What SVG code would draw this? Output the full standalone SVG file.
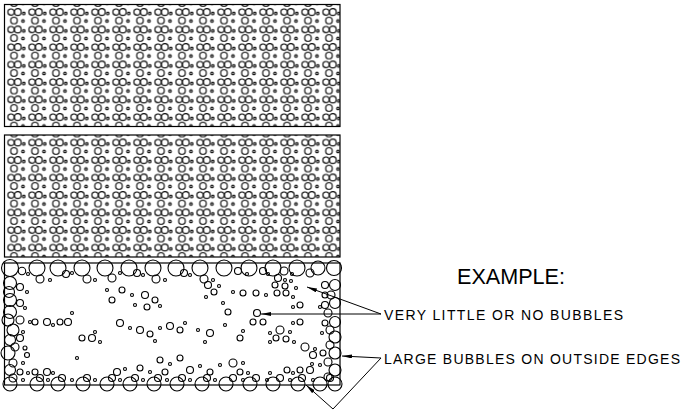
<svg xmlns="http://www.w3.org/2000/svg" width="682" height="411" viewBox="0 0 682 411">
<style>
.c{fill:none;stroke:#000;stroke-width:1.1}
.box{fill:url(#bub);stroke:#000;stroke-width:1.2}
.frame{fill:#fff;stroke:#000;stroke-width:1.2}
.t{font-family:"Liberation Sans",Arial,sans-serif;fill:#000}
.ld{fill:none;stroke:#000;stroke-width:1;marker-end:url(#arr)}
</style>
<defs>
<pattern id="bub" x="0" y="2.5" width="21" height="17.5" patternUnits="userSpaceOnUse">
<circle class="c" cx="6.5" cy="5" r="3.1"/>
<circle class="c" cx="13.3" cy="5" r="3.4"/>
<circle class="c" cx="19.3" cy="6.5" r="1.3"/>
<circle class="c" cx="9.5" cy="13.5" r="3.3"/>
<circle class="c" cx="18.5" cy="14" r="1.3"/>
</pattern>
<marker id="arr" markerWidth="10" markerHeight="4" refX="10" refY="2" orient="auto" markerUnits="userSpaceOnUse">
<path d="M0,0 L10,2 L0,4 z" fill="#000"/>
</marker>
</defs>
<rect width="682" height="411" fill="#fff"/>

<g id="panel-top" transform="translate(4.5,4.5)">
<rect class="box" x="0" y="0" width="335.5" height="122"/>
</g>
<g id="panel-middle" transform="translate(4.5,135)">
<rect class="box" x="0" y="0" width="335.5" height="122"/>
</g>

<g id="panel-bottom">
<rect class="frame" x="4.5" y="263" width="335.5" height="122"/>
<g class="c">
<!-- top edge -->
<circle cx="10" cy="268" r="8.5"/><circle cx="22" cy="271" r="3.7"/><circle cx="28" cy="274" r="1.5"/>
<circle cx="37" cy="268" r="8"/><circle cx="40" cy="279" r="4"/><circle cx="50" cy="280" r="1.5"/>
<circle cx="58" cy="268" r="8"/><circle cx="66" cy="274" r="3.5"/><circle cx="72" cy="273" r="1.5"/>
<circle cx="82" cy="268" r="8"/><circle cx="87" cy="279" r="4"/><circle cx="95" cy="280" r="1.5"/>
<circle cx="105" cy="268" r="8"/><circle cx="112" cy="278" r="4"/><circle cx="120" cy="273" r="1.5"/>
<circle cx="129" cy="268" r="8"/><circle cx="137" cy="273" r="3.5"/><circle cx="143" cy="275" r="1.5"/>
<circle cx="153" cy="268" r="8"/><circle cx="156" cy="279" r="4"/><circle cx="165" cy="280" r="1.5"/>
<circle cx="176" cy="268" r="8"/><circle cx="184" cy="273" r="3.5"/><circle cx="190" cy="275" r="1.5"/>
<circle cx="200" cy="268" r="8"/><circle cx="204" cy="279" r="4"/><circle cx="213" cy="280" r="1.5"/>
<circle cx="224" cy="268" r="8"/><circle cx="238" cy="271" r="3.5"/><circle cx="247" cy="274" r="1.5"/>
<circle cx="249" cy="268" r="8"/><circle cx="263" cy="271" r="3.5"/><circle cx="268" cy="274" r="1.5"/>
<circle cx="273" cy="268" r="8"/><circle cx="278" cy="278" r="3.5"/><circle cx="285" cy="280" r="1.5"/><circle cx="284" cy="271" r="4"/>
<circle cx="297" cy="268" r="8"/><circle cx="292" cy="274" r="1.5"/><circle cx="310" cy="273" r="4"/>
<circle cx="318" cy="268" r="7"/><circle cx="334" cy="268" r="7.5"/>
<!-- left edge -->
<circle cx="10" cy="283" r="6.5"/><circle cx="20" cy="287" r="3.5"/><circle cx="27" cy="292" r="1.5"/>
<circle cx="9" cy="292" r="5.5"/>
<circle cx="10" cy="300" r="6.5"/><circle cx="20" cy="303" r="3.5"/><circle cx="25" cy="308" r="1.5"/>
<circle cx="10" cy="312" r="6.5"/>
<circle cx="8" cy="320" r="6"/><circle cx="20" cy="320" r="4"/><circle cx="30" cy="322" r="1.5"/><circle cx="35" cy="322" r="3"/><circle cx="47" cy="322" r="3.5"/><circle cx="53" cy="325" r="1.5"/><circle cx="60" cy="322" r="3"/><circle cx="68" cy="322" r="3.5"/><circle cx="72" cy="313" r="1.5"/>
<circle cx="13" cy="330" r="6"/><circle cx="23" cy="332" r="1.5"/>
<circle cx="10" cy="340" r="5.5"/><circle cx="20" cy="338" r="3.5"/>
<circle cx="8" cy="353" r="7"/><circle cx="15" cy="347" r="4"/><circle cx="25" cy="348" r="2"/><circle cx="27" cy="355" r="2.5"/>
<circle cx="13" cy="363" r="4"/><circle cx="23" cy="363" r="1.5"/>
<circle cx="10" cy="370" r="5.5"/><circle cx="20" cy="372" r="3"/><circle cx="28" cy="373" r="1.5"/><circle cx="35" cy="372" r="3"/><circle cx="47" cy="372" r="3.5"/><circle cx="53" cy="373" r="1.5"/>
<!-- bottom edge -->
<circle cx="10" cy="384" r="7"/><circle cx="13" cy="378" r="4"/><circle cx="23" cy="380" r="1.5"/>
<circle cx="37" cy="384" r="7"/><circle cx="40" cy="378" r="3.5"/><circle cx="48" cy="380" r="1.5"/>
<circle cx="58" cy="384" r="7"/><circle cx="62" cy="378" r="3.5"/><circle cx="72" cy="380" r="1.5"/>
<circle cx="83" cy="384" r="7"/><circle cx="87" cy="378" r="3.5"/><circle cx="95" cy="380" r="1.5"/>
<circle cx="107" cy="384" r="7"/><circle cx="112" cy="378" r="3.5"/><circle cx="120" cy="380" r="1.5"/>
<circle cx="130" cy="384" r="7"/><circle cx="135" cy="378" r="3.5"/><circle cx="143" cy="380" r="1.5"/>
<circle cx="154" cy="384" r="7"/><circle cx="158" cy="378" r="3.5"/><circle cx="167" cy="380" r="1.5"/>
<circle cx="177" cy="384" r="7"/><circle cx="182" cy="378" r="3.5"/><circle cx="190" cy="380" r="1.5"/>
<circle cx="202" cy="384" r="7"/><circle cx="207" cy="378" r="3.5"/><circle cx="215" cy="380" r="1.5"/>
<circle cx="226" cy="384" r="7"/><circle cx="233" cy="378" r="3.5"/><circle cx="243" cy="380" r="1.5"/>
<circle cx="250" cy="384" r="7"/><circle cx="256" cy="378" r="3.5"/><circle cx="267" cy="380" r="1.5"/>
<circle cx="273" cy="384" r="7"/><circle cx="280" cy="378" r="3.5"/><circle cx="290" cy="380" r="1.5"/>
<circle cx="298" cy="384" r="7"/><circle cx="302" cy="378" r="3.5"/><circle cx="313" cy="380" r="1.5"/>
<circle cx="320" cy="384" r="7"/><circle cx="330" cy="378" r="3.5"/>
<circle cx="335" cy="384" r="7"/>
<!-- right edge -->
<circle cx="335" cy="285" r="5.5"/><circle cx="325" cy="285" r="3.5"/><circle cx="325" cy="295" r="3"/><circle cx="331" cy="295" r="4"/>
<circle cx="335" cy="303" r="5.5"/><circle cx="320" cy="307" r="1.5"/><circle cx="325" cy="305" r="3.5"/><circle cx="328" cy="313" r="4"/>
<circle cx="335" cy="322" r="5.5"/><circle cx="325" cy="323" r="3"/><circle cx="330" cy="330" r="4"/><circle cx="322" cy="333" r="1.5"/>
<circle cx="335" cy="337" r="6"/><circle cx="330" cy="345" r="4"/><circle cx="335" cy="353" r="6"/><circle cx="323" cy="353" r="3"/>
<circle cx="328" cy="362" r="4"/><circle cx="320" cy="365" r="1.5"/><circle cx="335" cy="370" r="6"/><circle cx="328" cy="377" r="4"/>
<circle cx="313" cy="355" r="3.5"/><circle cx="315" cy="349" r="1.5"/><circle cx="305" cy="347" r="4"/><circle cx="312" cy="364" r="1.5"/>
<circle cx="310" cy="370" r="3.5"/><circle cx="300" cy="370" r="3"/><circle cx="293" cy="373" r="1.5"/><circle cx="287" cy="370" r="3"/>
<!-- interior right -->
<circle cx="275" cy="285" r="3"/><circle cx="285" cy="286" r="3"/><circle cx="277" cy="293" r="3"/><circle cx="286" cy="293" r="3"/>
<circle cx="291" cy="281" r="1.5"/><circle cx="293" cy="297" r="1.5"/><circle cx="296" cy="288" r="1.5"/>
<circle cx="233" cy="292" r="1.5"/><circle cx="243" cy="293" r="3"/><circle cx="256" cy="293" r="3"/><circle cx="266" cy="295" r="1.5"/>
<circle cx="293" cy="307" r="1.5"/><circle cx="300" cy="305" r="3"/><circle cx="257" cy="313" r="3.5"/>
<circle cx="253" cy="322" r="3"/><circle cx="263" cy="322" r="3"/><circle cx="293" cy="323" r="1.5"/><circle cx="300" cy="322" r="3"/>
<circle cx="280" cy="330" r="4"/><circle cx="270" cy="333" r="1.5"/><circle cx="290" cy="332" r="1.5"/>
<circle cx="240" cy="338" r="3"/><circle cx="243" cy="331" r="1.5"/><circle cx="270" cy="342" r="1.5"/><circle cx="276" cy="338" r="3"/><circle cx="286" cy="339" r="3"/><circle cx="294" cy="342" r="1.5"/>
<circle cx="233" cy="363" r="4"/><circle cx="243" cy="363" r="1.5"/><circle cx="240" cy="372" r="3"/><circle cx="248" cy="373" r="1.5"/><circle cx="270" cy="373" r="1.5"/>
<!-- interior middle -->
<circle cx="208" cy="285" r="3.5"/><circle cx="214" cy="292" r="3"/><circle cx="206" cy="297" r="1.5"/><circle cx="219" cy="286" r="1.5"/>
<circle cx="122" cy="290" r="3"/><circle cx="132" cy="295" r="1.5"/><circle cx="145" cy="295" r="3.5"/><circle cx="155" cy="300" r="3"/>
<circle cx="147" cy="307" r="3"/><circle cx="160" cy="306" r="1.5"/><circle cx="135" cy="305" r="1.5"/>
<circle cx="107" cy="290" r="1.5"/><circle cx="112" cy="300" r="3"/>
<circle cx="120" cy="323" r="3.5"/><circle cx="130" cy="328" r="1.5"/><circle cx="140" cy="330" r="3.5"/><circle cx="150" cy="334" r="3"/>
<circle cx="160" cy="328" r="1.5"/><circle cx="170" cy="326" r="3.5"/><circle cx="180" cy="330" r="3"/><circle cx="185" cy="323" r="1.5"/><circle cx="155" cy="341" r="1.5"/>
<circle cx="198" cy="330" r="1.5"/><circle cx="210" cy="333" r="3.5"/><circle cx="205" cy="342" r="1.5"/><circle cx="225" cy="325" r="1.5"/><circle cx="228" cy="312" r="3"/><circle cx="223" cy="303" r="1.5"/>
<circle cx="77" cy="358" r="1.5"/><circle cx="82" cy="338" r="3"/><circle cx="92" cy="338" r="3.5"/><circle cx="95" cy="332" r="1.5"/><circle cx="100" cy="342" r="1.5"/>
<circle cx="117" cy="372" r="3.5"/><circle cx="125" cy="369" r="1.5"/><circle cx="140" cy="368" r="3"/><circle cx="150" cy="372" r="1.5"/>
<circle cx="160" cy="360" r="3"/><circle cx="170" cy="364" r="1.5"/><circle cx="180" cy="358" r="3"/><circle cx="190" cy="370" r="3.5"/>
<circle cx="200" cy="366" r="1.5"/><circle cx="210" cy="372" r="3"/><circle cx="220" cy="365" r="1.5"/><circle cx="165" cy="372" r="3"/>
</g>
</g>

<g id="label-example"><text class="t" x="457" y="284" font-size="22" textLength="108" lengthAdjust="spacingAndGlyphs">EXAMPLE:</text></g>
<g id="label-no-bubbles"><text class="t" x="384" y="320" font-size="14" textLength="239">VERY LITTLE OR NO BUBBLES</text></g>
<g id="label-edges"><text class="t" x="384" y="364" font-size="14" textLength="296">LARGE BUBBLES ON OUTSIDE EDGES</text></g>

<g id="connectors">
<line class="ld" x1="381" y1="314" x2="261" y2="314"/>
<line class="ld" x1="381" y1="314" x2="307" y2="287"/>
<line class="ld" x1="381" y1="358" x2="342" y2="356"/>
<polyline class="ld" points="381,358 333,409 306,385"/>
</g>
</svg>
